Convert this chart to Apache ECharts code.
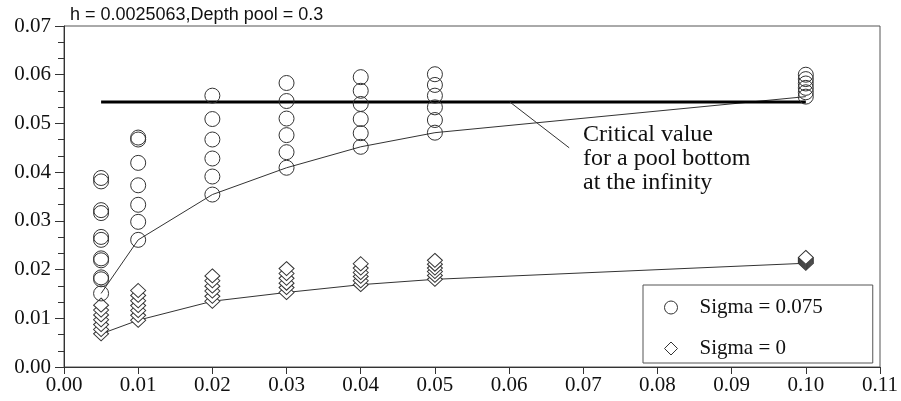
<!DOCTYPE html>
<html>
<head>
<meta charset="utf-8">
<script src="https://cdn.jsdelivr.net/npm/echarts@6/dist/echarts.min.js"></script>
<style>
  html, body { margin: 0; padding: 0; background: #fff; }
  #chart { width: 901px; height: 401px; }
</style>
</head>
<body>
<div id="chart"></div>
<script>
// Step sizes (x) at which the runs were made
const steps = [0.005, 0.01, 0.02, 0.03, 0.04, 0.05, 0.10];

// Sigma = 0.075 results, one list per step
const sig075_005 = [0.0388, 0.0381, 0.0322, 0.0316, 0.0267, 0.0261, 0.0223, 0.0219, 0.0184, 0.0180, 0.0151];
const sig075_010 = [0.0471, 0.0467, 0.0419, 0.0373, 0.0333, 0.0298, 0.0261];
const sig075_020 = [0.0557, 0.0509, 0.0467, 0.0428, 0.0391, 0.0354];
const sig075_030 = [0.0583, 0.0546, 0.0510, 0.0476, 0.0441, 0.0409];
const sig075_040 = [0.0595, 0.0567, 0.0540, 0.0509, 0.0480, 0.0452];
const sig075_050 = [0.0601, 0.0579, 0.0557, 0.0533, 0.0507, 0.0481];
const sig075_100 = [0.0600, 0.0591, 0.0582, 0.0573, 0.0564, 0.0555];

// Sigma = 0 results, one list per step (listed bottom to top)
const sig0_005 = [0.0068, 0.0077, 0.0087, 0.0097, 0.0107, 0.0117, 0.0127];
const sig0_010 = [0.0096, 0.0106, 0.0116, 0.0126, 0.0136, 0.0147, 0.0157];
const sig0_020 = [0.0135, 0.0145, 0.0156, 0.0166, 0.0177, 0.0187];
const sig0_030 = [0.0153, 0.0163, 0.0172, 0.0182, 0.0192, 0.0202];
const sig0_040 = [0.0169, 0.0177, 0.0186, 0.0194, 0.0203, 0.0212];
const sig0_050 = [0.0180, 0.0188, 0.0196, 0.0203, 0.0211, 0.0219];
const sig0_100 = [0.0213, 0.0215, 0.0217, 0.0219, 0.0221, 0.0223, 0.0225];

// Lower envelope curves through the minimum of each step
const fit075 = [0.0151, 0.0261, 0.0354, 0.0409, 0.0452, 0.0481, 0.0555];
const fit0   = [0.0068, 0.0096, 0.0135, 0.0153, 0.0169, 0.0180, 0.0213];

// Critical value for a pool bottom at infinity
const criticalValue = 0.0544;
const criticalRange = [0.005, 0.10];
// Leader from the critical line toward its label
const leaderX = [0.0601, 0.0681];
const leaderY = [0.0544, 0.0450];

const yTicks = ['0.00','0.01','0.02','0.03','0.04','0.05','0.06','0.07'];
const xTicks = ['0.00','0.01','0.02','0.03','0.04','0.05','0.06','0.07','0.08','0.09','0.10','0.11'];

const sig075Cols = [sig075_005, sig075_010, sig075_020, sig075_030, sig075_040, sig075_050, sig075_100];
const sig0Cols = [sig0_005, sig0_010, sig0_020, sig0_030, sig0_040, sig0_050, sig0_100];

function toPoints(cols) {
  const pts = [];
  cols.forEach((col, i) => col.forEach(v => pts.push([steps[i], v])));
  return pts;
}

const serif = '"Liberation Serif", "DejaVu Serif", serif';
const sans = '"Liberation Sans", Arial, sans-serif';
const ink = '#333';

const chart = echarts.init(document.getElementById('chart'), null, { renderer: 'canvas' });

chart.setOption({
  animation: false,
  backgroundColor: '#fff',
  title: {
    text: 'h = 0.0025063,Depth pool = 0.3',
    left: 70,
    top: 6,
    padding: 0,
    textStyle: { fontFamily: sans, fontSize: 18, fontWeight: 'normal', color: '#111' }
  },
  grid: {
    left: 64, right: 21, top: 26, bottom: 34,
    show: true, borderColor: '#555', borderWidth: 1, backgroundColor: 'transparent'
  },
  xAxis: {
    type: 'value', min: 0, max: 0.11, interval: 0.01,
    axisLine: { lineStyle: { color: ink, width: 1 } },
    axisTick: { show: true, inside: false, length: 7, lineStyle: { color: ink } },
    splitLine: { show: false },
    axisLabel: {
      margin: 8, color: '#111', fontFamily: serif, fontSize: 21,
      formatter: (v) => xTicks[Math.round(v * 100)]
    }
  },
  yAxis: {
    type: 'value', min: 0, max: 0.07, interval: 0.01,
    axisLine: { show: true, lineStyle: { color: ink, width: 1 } },
    axisTick: { show: true, inside: false, length: 9, lineStyle: { color: ink } },
    minorTick: { show: true, splitNumber: 3, length: 6, lineStyle: { color: ink } },
    splitLine: { show: false },
    axisLabel: {
      margin: 13, color: '#111', fontFamily: serif, fontSize: 21,
      formatter: (v) => yTicks[Math.round(v * 100)]
    }
  },
  legend: {
    orient: 'vertical',
    left: 643, top: 285,
    padding: [12, 50, 4, 21],
    itemWidth: 13, itemHeight: 13,
    itemGap: 20,
    backgroundColor: '#fff',
    borderColor: '#555', borderWidth: 1, borderRadius: 0,
    textStyle: { fontFamily: serif, fontSize: 21, color: '#111', padding: [0, 0, 0, 17] },
    data: [
      { name: 'Sigma = 0.075', icon: 'circle', itemStyle: { color: '#fff', borderColor: ink, borderWidth: 1 } },
      { name: 'Sigma = 0', icon: 'diamond', itemStyle: { color: '#fff', borderColor: ink, borderWidth: 1 } }
    ]
  },
  graphic: [{
    type: 'text',
    left: 583, top: 123,
    style: {
      text: 'Critical value\nfor a pool bottom\nat the infinity',
      font: '24px ' + serif,
      lineHeight: 24,
      fill: '#111'
    },
    z: 10
  }],
  series: [
    {
      name: 'fit075', type: 'line', silent: true, symbol: 'none', z: 1,
      lineStyle: { color: ink, width: 1 },
      data: steps.map((x, i) => [x, fit075[i]])
    },
    {
      name: 'fit0', type: 'line', silent: true, symbol: 'none', z: 1,
      lineStyle: { color: ink, width: 1 },
      data: steps.map((x, i) => [x, fit0[i]])
    },
    {
      name: 'critical', type: 'line', silent: true, symbol: 'none', z: 2,
      lineStyle: { color: '#000', width: 3 },
      data: criticalRange.map(x => [x, criticalValue])
    },
    {
      name: 'leader', type: 'line', silent: true, symbol: 'none', z: 2,
      lineStyle: { color: ink, width: 1 },
      data: leaderX.map((x, i) => [x, leaderY[i]])
    },
    {
      name: 'Sigma = 0', type: 'scatter', symbol: 'diamond', symbolSize: [15, 14], z: 3,
      itemStyle: { color: '#fff', borderColor: ink, borderWidth: 1, opacity: 1 },
      data: toPoints(sig0Cols)
    },
    {
      name: 'Sigma = 0.075', type: 'scatter', symbol: 'circle', symbolSize: 15, z: 3,
      itemStyle: { color: 'rgba(0,0,0,0)', borderColor: ink, borderWidth: 1, opacity: 1 },
      data: toPoints(sig075Cols)
    }
  ]
});
</script>
</body>
</html>
